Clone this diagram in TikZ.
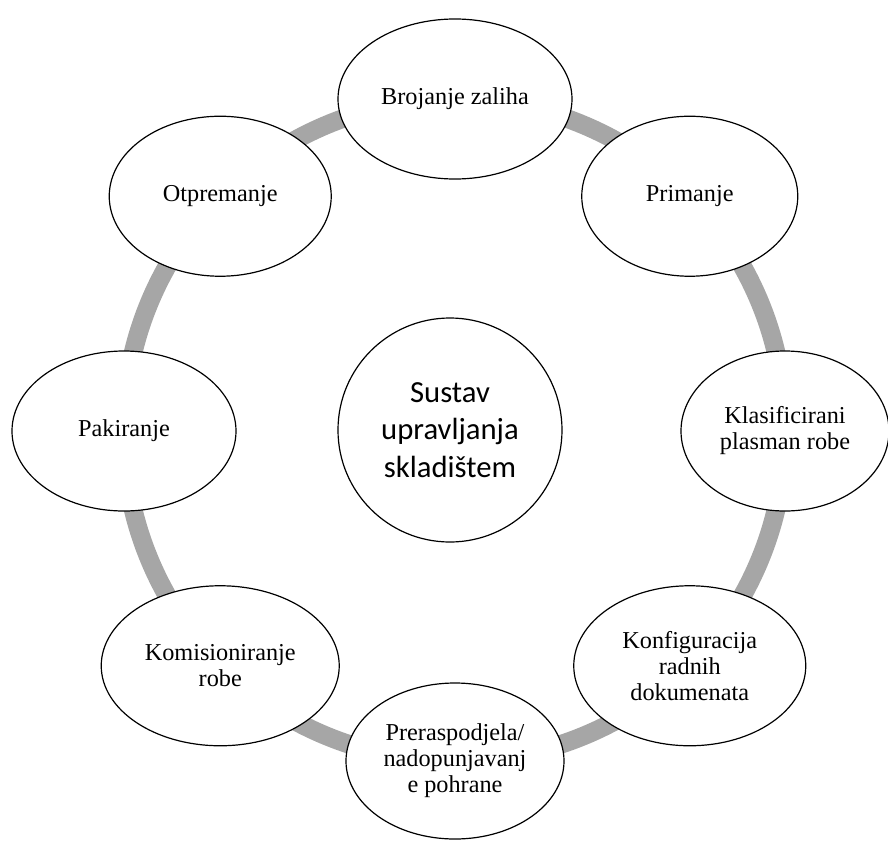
\documentclass[tikz,border=0pt]{standalone}
\usepackage{fontspec}
\setmainfont{Liberation Serif}
\newfontfamily\carlito{Carlito}
\usepackage{tikz}
\usetikzlibrary{shapes.geometric}
\pgfdeclarelayer{bg}
\pgfsetlayers{bg,main}

\begin{document}
\begin{tikzpicture}[x=0.75pt, y=0.75pt,
		stage/.style={ellipse, draw, line width=0.9pt, fill=white, inner sep=0pt,
				minimum width=168pt, minimum height=120pt, align=center,
				font=\fontsize{18.2}{19.5}\selectfont},
		hub/.style={circle, draw, line width=0.9pt, fill=white, inner sep=0pt,
				minimum size=168pt, align=center, font=\carlito\fontsize{23}{28}\selectfont},
		ring/.style={draw=black!35, line width=14pt}]
	\useasboundingbox (-455, -409) rectangle (433, 431);

	\node[hub] (wms) at (-5, 1) {Sustav\\upravljanja\\skladištem};

	\node[stage, minimum width=175.5pt] (n1) at (90:332) {Brojanje zaliha};
	\node[stage, minimum width=162pt] (n2) at (45:332) {Primanje};
	\node[stage, minimum width=156pt] (n3) at (0:330) {Klasificirani\\plasman robe};
	\node[stage, minimum width=174pt] (n4) at (-45:332) {Konfiguracija\\radnih\\dokumenata};
	\node[stage, minimum width=163.5pt, minimum height=117pt] (n5) at (-90:330) {Preraspodjela/\\nadopunjavanj\\e pohrane};
	\node[stage, minimum width=178.5pt] (n6) at (-135:332) {Komisioniranje\\robe};
	\node[stage] (n7) at (180:331) {Pakiranje};
	\node[stage, minimum width=166.5pt] (n8) at (135:332) {Otpremanje};

	\begin{pgfonlayer}{bg}
		\foreach \a/\b in {n1/n2, n2/n3, n3/n4, n4/n5, n5/n6, n6/n7, n7/n8, n8/n1} {
				\draw[ring] (\a.center) to[bend left=22.5, looseness=0.885] (\b.center);
			}
	\end{pgfonlayer}
\end{tikzpicture}
\end{document}
